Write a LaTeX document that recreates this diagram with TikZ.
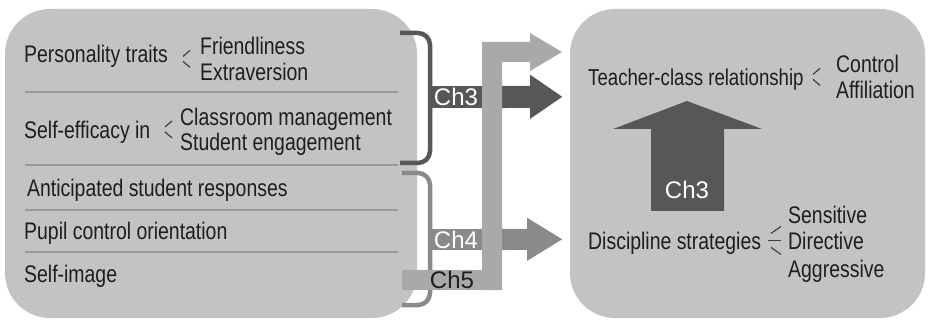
\documentclass[tikz,border=0pt]{standalone}
\usepackage{fontspec}
\setmainfont{Liberation Sans}
\newfontfamily\narrowsf[FakeStretch=0.81]{Liberation Sans}
\usetikzlibrary{calc}

\definecolor{boxgray}{HTML}{C3C3C3}
\definecolor{chdark}{HTML}{575757}
\definecolor{chmid}{HTML}{8A8A8A}
\definecolor{chlight}{HTML}{A9A9A9}
\definecolor{linegray}{HTML}{9A9A9A}
\definecolor{inkgray}{HTML}{1E1E1E}

\begin{document}
\begin{tikzpicture}[x=1pt,y=-1pt,
    txt/.style={anchor=base west,inner sep=0pt,text=inkgray,
      font=\narrowsf\fontsize{24}{28}\selectfont},
    tick/.style={line width=1.2pt,draw=inkgray!85},
    divider/.style={line width=1.2pt,draw=linegray},
    chlabel/.style={inner sep=0pt,minimum width=52pt,minimum height=22pt,
      text=white,font=\fontsize{24}{28}\selectfont},
    bracket/.style={line width=4.5pt,rounded corners=12pt}]
\useasboundingbox (0,0) rectangle (928,320);

% the two boxes
\fill[boxgray,rounded corners=45pt] (5,9) rectangle (417,318);
\fill[boxgray,rounded corners=45pt] (570,9) rectangle (925,318);

\foreach \y in {92,165,210,252}
    \draw[divider] (25,\y) -- (398,\y);

% left box
\node[txt] (pt) at (24,63) {Personality traits};
\node[txt] (fr) at (200,55) {Friendliness};
\node[txt] (ex) at (200,81) {Extraversion};
\node[txt] (se) at (24,139) {Self-efficacy in};
\node[txt] (cm) at (180,126) {Classroom management};
\node[txt] (sg) at (180,151) {Student engagement};
\node[txt] (as) at (27,197) {Anticipated student responses};
\node[txt] (pc) at (24,240) {Pupil control orientation};
\node[txt] (si) at (24,282) {Self-image};

\coordinate (m1) at ($(fr.base west)!0.5!(ex.base west)+(0,-8.6)$);
\draw[tick] ($(m1)+(-17,-3)$) -- ++(7,-6);
\draw[tick] ($(m1)+(-17,2)$) -- ++(7,6);
\coordinate (m2) at ($(cm.base west)!0.5!(sg.base west)+(0,-8.6)$);
\draw[tick] ($(m2)+(-15,-3)$) -- ++(7,-6);
\draw[tick] ($(m2)+(-15,2)$) -- ++(7,6);

% right box
\node[txt,font=\narrowsf\fontsize{23}{27}\selectfont] (tc) at (588,86) {Teacher-class relationship};
\node[txt] (co) at (836,73) {Control};
\node[txt] (af) at (836,99) {Affiliation};
\node[txt] (ds) at (588,249) {Discipline strategies};
\node[txt] (sn) at (788,224) {Sensitive};
\node[txt] (dr) at (788,249) {Directive};
\node[txt] (ag) at (788,277) {Aggressive};

\coordinate (m3) at ($(co.base west)!0.5!(af.base west)+(0,-8.6)$);
\draw[tick] ($(m3)+(-23,-3)$) -- ++(7,-6);
\draw[tick] ($(m3)+(-23,2)$) -- ++(7,6);
\coordinate (m4) at ($(dr.base west)+(0,-8.6)$);
\draw[tick] ($(m4)+(-17,-7)$) -- ++(10,-7);
\draw[tick] ($(m4)+(-20,0)$) -- ++(13,0);
\draw[tick] ($(m4)+(-17,7)$) -- ++(10,7);

% brackets
\draw[bracket,chdark] (400,33) -- (430,33) -- (430,163) -- (400,163);
\draw[bracket,chmid] (402,173) -- (430,173) -- (430,305) -- (402,305);

% chapter arrows
\node[chlabel,fill=chdark] (chA) at (456,97) {Ch3};
\fill[chdark] (chA.north east) -- ++(48,0) -- ++(0,-11) -- ++(32,22)
    -- ++(-32,22) -- ++(0,-11) -- (chA.south east) -- cycle;
\node[chlabel,fill=chmid,minimum height=21pt] (chB) at (456,239.5) {Ch4};
\fill[chmid] (chB.north east) -- ++(45,0) -- ++(0,-11) -- ++(35,21.5)
    -- ++(-35,21.5) -- ++(0,-11) -- (chB.south east) -- cycle;
\fill[chlight] (482,290) -- (482,42) -- (530,42) -- (530,33) -- (562,52)
    -- (530,71) -- (530,62) -- (502,62) -- (502,290) -- cycle;
\node[chlabel,fill=chlight,text=inkgray,minimum width=100pt,minimum height=20pt]
    (chC) at (452,280) {Ch5};

\fill[chdark] (651,211) -- (651,129) -- (613,129) -- (687,101) -- (762,129)
    -- (724,129) -- (724,211) -- cycle;
\node[chlabel] (chD) at (687,190) {Ch3};
\end{tikzpicture}
\end{document}
